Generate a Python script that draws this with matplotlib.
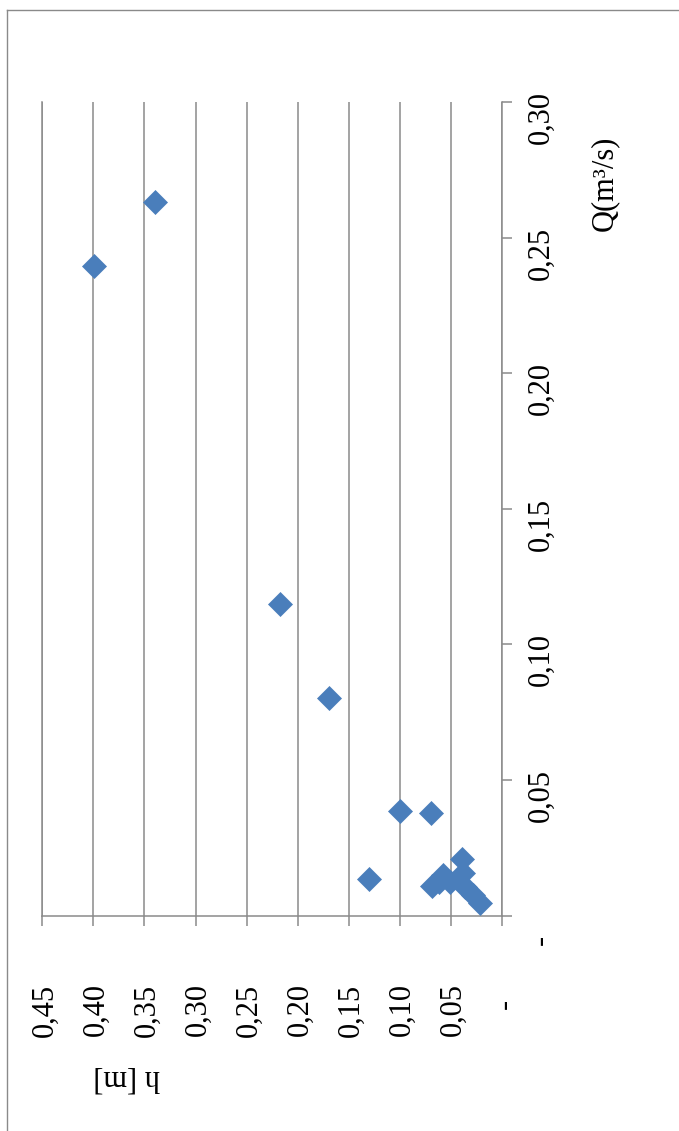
"""Rotated scatter chart: discharge Q versus depth h."""

import matplotlib

matplotlib.use("Agg")

import matplotlib.pyplot as plt
from matplotlib.lines import Line2D
from matplotlib.transforms import offset_copy

# data (h in m, Q in m3/s)
h_values = [0.3395, 0.3998, 0.2173, 0.1693, 0.0998, 0.0695, 0.1298,
            0.0688, 0.0614, 0.0575, 0.0509, 0.0394, 0.0379, 0.0362,
            0.0281, 0.0215]
q_values = [0.2632, 0.2395, 0.1149, 0.0801, 0.0386, 0.0379, 0.0136,
            0.0109, 0.0125, 0.0149, 0.0124, 0.0207, 0.0157, 0.0106,
            0.0076, 0.0045]

h_ticks = [0.00, 0.05, 0.10, 0.15, 0.20, 0.25, 0.30, 0.35, 0.40, 0.45]
h_tick_labels = ["-", "0,05", "0,10", "0,15", "0,20", "0,25", "0,30",
                 "0,35", "0,40", "0,45"]
q_ticks = [0.00, 0.05, 0.10, 0.15, 0.20, 0.25, 0.30]
q_tick_labels = ["-", "0,05", "0,10", "0,15", "0,20", "0,25", "0,30"]

W, H, DPI = 679, 1131, 100
GRAY = "#8a8a8a"
BLUE = "#4a7ebb"
FONT = "Liberation Serif"
FS = 22

plt.rcParams["font.family"] = [FONT, "DejaVu Serif"]

fig = plt.figure(figsize=(W / DPI, H / DPI), dpi=DPI)

# chart area border (only left and top edges are visible in the crop)
fig.add_artist(Line2D([7.3 / W, 7.3 / W], [0, 1 - 10 / H], color=GRAY, lw=1.0))
fig.add_artist(Line2D([7.3 / W, 1], [1 - 10 / H, 1 - 10 / H], color=GRAY, lw=1.0))

x0, x1 = 42.3, 502.0
y0, y1 = 102.0, 915.5
ax = fig.add_axes([x0 / W, 1 - y1 / H, (x1 - x0) / W, (y1 - y0) / H])
ax.set_xlim(0.45, 0.0)
ax.set_ylim(0.0, 0.30)

for side in ["top"]:
    ax.spines[side].set_visible(False)
for side in ["left", "right", "bottom"]:
    ax.spines[side].set_color(GRAY)
    ax.spines[side].set_linewidth(1.1)

ax.set_xticks(h_ticks)
ax.set_yticks(q_ticks)
ax.yaxis.tick_right()
ax.grid(axis="x", color=GRAY, lw=1.1)
ax.set_axisbelow(True)
ax.tick_params(axis="x", direction="out", length=7.2, width=1.1, color=GRAY,
               labelbottom=False)
ax.tick_params(axis="y", direction="out", length=7.2, width=1.1, color=GRAY,
               labelright=False, left=False)

ax.plot(h_values, q_values, linestyle="none", marker="D", ms=12.2,
        mfc=BLUE, mec=BLUE, mew=0.5, clip_on=False, zorder=3)

# tick labels, rotated like the rest of the chart
for t, lab in zip(h_ticks, h_tick_labels):
    if lab == "-":
        dx, dy = 3.5, -88.5
    else:
        dx, dy = 2.7, -94.5
    tr = offset_copy(ax.get_xaxis_transform(), fig=fig, x=dx, y=dy, units="dots")
    ax.text(t, 0, lab, transform=tr, rotation=90, ha="center", va="center",
            fontsize=FS, fontfamily=FONT)

for t, lab in zip(q_ticks, q_tick_labels):
    if lab == "-":
        dx, dy = 39.7, -24.5
    else:
        dx, dy = 39.4, -15.5
    tr = offset_copy(ax.get_yaxis_transform(), fig=fig, x=dx, y=dy, units="dots")
    ax.text(1, t, lab, transform=tr, rotation=90, ha="center", va="center",
            fontsize=FS, fontfamily=FONT)

# axis titles
fig.text(604 / W, 1 - 183 / H, "Q(m³/s)", rotation=90, ha="center",
         va="center", fontsize=FS, fontfamily=FONT)
fig.text(127 / W, 1 - 1078 / H, "h [m]", rotation=180, ha="center",
         va="center", fontsize=FS, fontfamily=FONT)

fig.savefig("out.png", dpi=DPI)
plt.close(fig)
